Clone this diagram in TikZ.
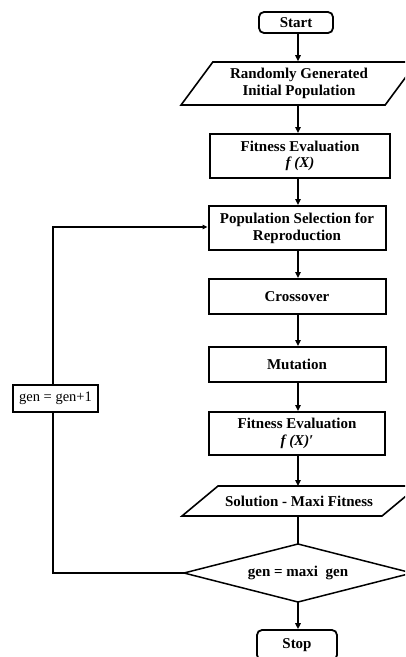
\documentclass[tikz,border=0pt]{standalone}
\usepackage{fontspec}
\setmainfont{Liberation Serif}
\usetikzlibrary{shapes.geometric,arrows.meta}
\tikzset{
  lbl/.style={font=\fontsize{15}{16.7}\selectfont\bfseries, align=center, inner sep=0pt},
  procbox/.style={lbl, draw, line width=2pt, fill=white, minimum width=177pt},
  termbox/.style={lbl, draw, line width=1.8pt, rounded corners=5pt, fill=white},
  iobox/.style={lbl, draw, line width=1.6pt, trapezium, trapezium stretches=true,
     trapezium left angle=50, trapezium right angle=130, minimum width=236pt},
  outline/.style={line width=1.5pt, line join=miter},
  incbox/.style={draw, line width=1.4pt, fill=white, inner sep=0pt,
     font=\fontsize{14.5}{16}\selectfont, minimum width=85pt, minimum height=27pt},
  flow/.style={line width=2.2pt, -{Triangle[length=6pt,width=5.5pt]}},
  backarrow/.style={line width=1.3pt, -{Triangle[length=5pt,width=4.5pt]}}
}
\begin{document}
\begin{tikzpicture}[x=1pt,y=-1pt]
\useasboundingbox[fill=white] (0,0) rectangle (405,657);
\begin{scope}
\clip (0,0) rectangle (405,657);
\node[termbox, minimum width=74pt, minimum height=21pt] (start) at (296,22.5) {Start};
\node[iobox, minimum height=43pt] (init) at (299,83.5) {Randomly Generated\\Initial Population};
\node[procbox, minimum width=180pt, minimum height=44pt] (fit1) at (300,156) {Fitness Evaluation\\\textit{f (X)}};
\node[procbox, minimum height=44pt] (pop) at (297,228) {Population Selection for\\Reproduction};
\node[procbox, minimum height=35pt] (cross) at (297,296.5) {Crossover};
\node[procbox, minimum height=35pt] (mut) at (297,364.5) {Mutation};
\node[procbox, minimum width=176pt, minimum height=43pt] (fit2) at (297,433.5) {Fitness Evaluation\\\textit{f (X)′}};
\node[lbl] (sol) at (299,501) {Solution - Maxi Fitness};
\coordinate (solN) at (298,486);
\coordinate (solS) at (298,516);
\draw[outline, line width=1.6pt] (182,516) -- (218,486) -- (418,486) -- (382,516) -- cycle;
\node[lbl] (dec) at (298,573) {gen = maxi\ \ gen};
\coordinate (decN) at (298,544);
\coordinate (decS) at (298,602);
\coordinate (decW) at (184,573);
\coordinate (decE) at (412,573);
\draw[outline] (decW) -- (decN) -- (decE) -- (decS) -- cycle;
\node[termbox, minimum width=80pt, minimum height=30pt] (stop) at (297,645) {Stop};

\draw[flow] (start.south -| 298,0) -- (298,0 |- init.north);
\draw[flow] (init.south -| 298,0) -- (298,0 |- fit1.north);
\draw[flow] (fit1.south -| 298,0) -- (298,0 |- pop.north);
\draw[flow] (pop.south -| 298,0) -- (298,0 |- cross.north);
\draw[flow] (cross.south -| 298,0) -- (298,0 |- mut.north);
\draw[flow] (mut.south -| 298,0) -- (298,0 |- fit2.north);
\draw[flow] (fit2.south -| 298,0) -- (solN);
\draw[line width=2.2pt] (solS) -- (decN);
\draw[flow] (decS) -- (298,0 |- stop.north);

\coordinate (lb) at (53,573);
\coordinate (lt) at (53,227);
\draw[backarrow] (decW) -- (lb) -- (lt) -- (pop.west |- lt);
\node[incbox] (inc) at (55.5,398.5) {gen = gen+1};
\end{scope}
\end{tikzpicture}
\end{document}
